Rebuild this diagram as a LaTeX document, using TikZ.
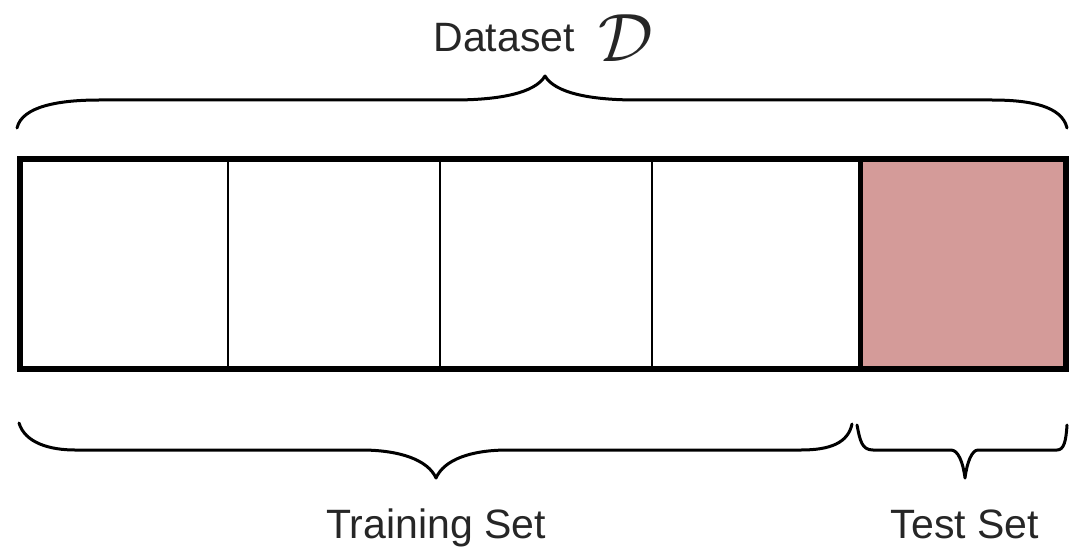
\documentclass[tikz,border=0pt]{standalone}
\usepackage{fontspec}
\usepackage{graphicx}
\setmainfont{Liberation Sans}
\definecolor{testfill}{HTML}{D49B99}
\begin{document}
\begin{tikzpicture}[x=0.5pt,y=-0.5pt,
  cell/.style={draw=black,line width=1pt,minimum height=105pt,inner sep=0pt,outer sep=0pt},
  bracepath/.style={draw=black,line width=1.5pt,line cap=round,line join=round},
  label/.style={font=\fontsize{20.5}{24}\selectfont,inner sep=0pt,text=black!85}
]
\useasboundingbox (0,0) rectangle (1069,551);

% five cells of the dataset, edges at 20, 228, 440, 652, 860, 1066
\node[cell,minimum width=104pt] (c1) at (124,264) {};
\node[cell,minimum width=106pt] (c2) at (334,264) {};
\node[cell,minimum width=106pt] (c3) at (546,264) {};
\node[cell,minimum width=104pt] (c4) at (756,264) {};
\node[cell,fill=testfill,minimum width=103pt,line width=2.5pt] (c5) at (963,264) {};

% heavy outline of the whole set
\draw[line width=3pt,line join=miter] (c1.north west) rectangle (c5.south east);

% brace over the whole dataset
\coordinate (tl) at (17,128);
\coordinate (tt) at (545,76);
\coordinate (tr) at (1067,128);
\draw[bracepath] (tl) .. controls (22,106) and (60,100) .. (99,100) -- (453,100)
  .. controls (500,100) and (535,93) .. (tt)
  .. controls (555,93) and (590,100) .. (637,100) -- (992,100)
  .. controls (1030,100) and (1062,106) .. (tr);

% brace under the training part
\coordinate (bl) at (19,423);
\coordinate (bt) at (436,478);
\coordinate (br) at (852,424);
\draw[bracepath] (bl) .. controls (25,443) and (50,450) .. (75,450) -- (361,450)
  .. controls (400,450) and (428,460) .. (bt)
  .. controls (444,460) and (470,450) .. (508,450) -- (801,450)
  .. controls (830,450) and (848,443) .. (br);

% brace under the test part
\coordinate (sl) at (857,425);
\coordinate (st) at (965,478);
\coordinate (sr) at (1067,425);
\draw[bracepath] (sl) .. controls (860,441) and (862,450) .. (873,450) -- (951,450)
  .. controls (958,450) and (963,462) .. (st)
  .. controls (967,462) and (972,450) .. (978,450) -- (1057,450)
  .. controls (1064,450) and (1066,441) .. (sr);

% labels
\node[label,anchor=base west] (dset) at (433,52) {Dataset\hspace{12pt}\raisebox{-5pt}{\scalebox{1.65}{$\mathcal{D}$}}};
\node[label,anchor=base] (train) at (436,538) {Training Set};
\node[label,anchor=base] (test) at (965,538) {Test Set};
\end{tikzpicture}
\end{document}
